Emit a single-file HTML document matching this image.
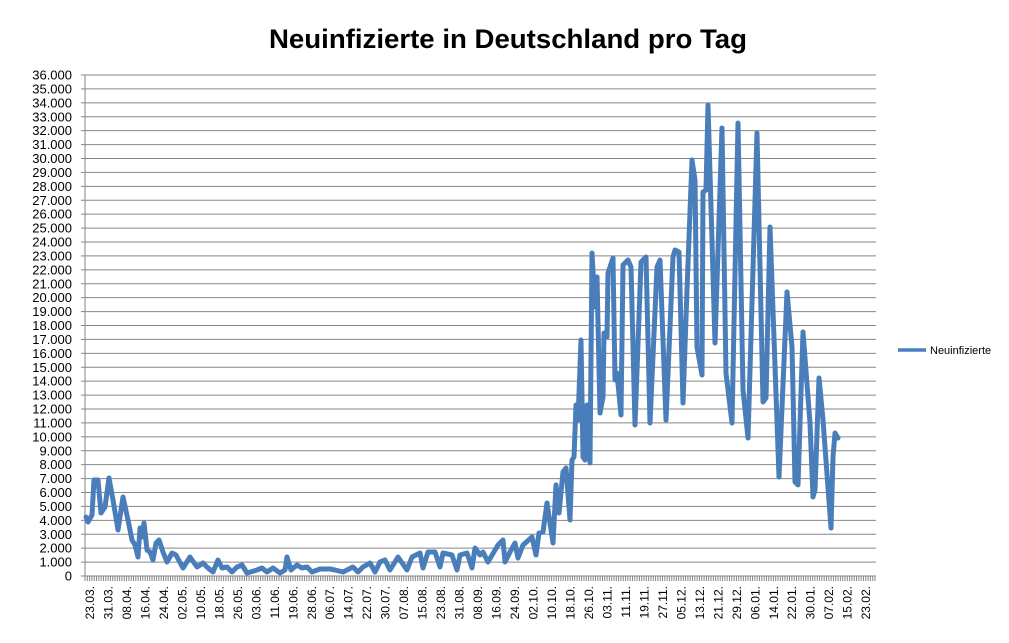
<!DOCTYPE html>
<html><head><meta charset="utf-8"><style>
body{margin:0;background:#fff;}
svg{display:block;font-family:"Liberation Sans",sans-serif;}
</style></head><body>
<svg id="s" width="1009" height="643" viewBox="0 0 1009 643" xmlns="http://www.w3.org/2000/svg">
<rect width="1009" height="643" fill="#fff"/>
<text x="508" y="48" text-anchor="middle" font-size="27" font-weight="bold" fill="#000" textLength="478" lengthAdjust="spacingAndGlyphs">Neuinfizierte in Deutschland pro Tag</text>
<g id="grid"></g>
<g id="ylab" font-size="13" text-anchor="end" fill="#000"></g>
<g id="xlab" font-size="12" fill="#000"></g>
<polyline fill="none" stroke="#4a7ebb" stroke-width="5" stroke-linejoin="round" stroke-linecap="round" points="
86,517 88,522 92,515 94,480 98,480 101,513 105,507 109,478 113,500 118,530 123,497 128,520 132,540 135,545 138,557 140,528 142,537 144,523 147,550 150,552 153,560 156,543 159,540 163,552 167,562 172,553 176,555 183,568 190,557 197,567 203,563 208,568 213,572 218,560 222,568 227,567 232,572 237,567 242,565 247,573 257,570 262,568 267,572 273,568 280,573 285,570 287,557 291,570 297,565 302,568 307,567 312,572 320,569 330,569 335,570 343,572 353,567 358,572 363,567 370,563 375,572 380,562 385,560 390,570 398,557 407,570 412,557 420,553 423,568 428,552 435,552 440,567 443,553 452,555 457,570 460,555 467,553 472,568 475,548 480,555 483,552 488,562 498,545 503,540 505,562 510,552 515,543 518,558 523,545 532,537 536,555 539,533 543,532 547,503 553,543 556,485 559,513 563,472 566,468 570,520 572,460 574,457 576,405 578,420 581,340 583,457 585,460 587,405 590,463 592,253 595,307 597,277 600,413 603,397 604,333 607,337 608,273 613,258 615,380 617,373 621,415 623,265 628,260 631,267 635,425 641,262 646,257 650,423 657,267 660,260 666,420 673,257 675,250 679,252 683,403 687,290 692,160 695,180 697,347 702,375 703,192 706,190 708,105 715,343 722,128 726,373 732,423 738,123 743,390 748,438 757,133 763,402 766,398 770,227 779,477 787,292 792,347 795,482 798,485 803,332 810,423 813,497 815,490 819,378 823,420 831,528 833,457 835,433 838,438"/>
<line x1="898" y1="350" x2="926" y2="350" stroke="#4a7ebb" stroke-width="3.5"/>
<text x="930" y="354" font-size="11" fill="#000">Neuinfizierte</text>
</svg>
<script>
var NS="http://www.w3.org/2000/svg",g=document.getElementById("grid"),yl=document.getElementById("ylab"),xl=document.getElementById("xlab");
function el(p,t,a){var e=document.createElementNS(NS,t);for(var k in a)e.setAttribute(k,a[k]);p.appendChild(e);return e;}
for(var i=0;i<=36;i++){var y=576-i*501/36;
 if(i>0)el(g,"line",{x1:85,x2:876,y1:y,y2:y,stroke:"#868686","stroke-width":1});
 el(g,"line",{x1:81,x2:85,y1:y,y2:y,stroke:"#868686","stroke-width":1});
 var s=i==0?"0":(i+".000");
 el(yl,"text",{x:72,y:y+4.5}).textContent=s;}
el(g,"line",{x1:85,x2:85,y1:75,y2:576,stroke:"#868686","stroke-width":1});
el(g,"line",{x1:85,x2:876,y1:576,y2:576,stroke:"#868686","stroke-width":1});
for(var x=85;x<=876.5;x+=2.31)el(g,"line",{x1:x,x2:x,y1:576,y2:581,stroke:"#868686","stroke-width":1});
var start=Date.UTC(2020,2,23);
for(var k=0;k<=42;k++){var d=new Date(start+(k*8+(k>=12?1:0))*86400000);
 var t=("0"+d.getUTCDate()).slice(-2)+"."+("0"+(d.getUTCMonth()+1)).slice(-2)+".";
 var x=90+k*18.48+4;
 el(xl,"text",{x:0,y:0,"text-anchor":"end",transform:"translate("+x+",586) rotate(-90)"}).textContent=t;}
</script>
</body></html>
